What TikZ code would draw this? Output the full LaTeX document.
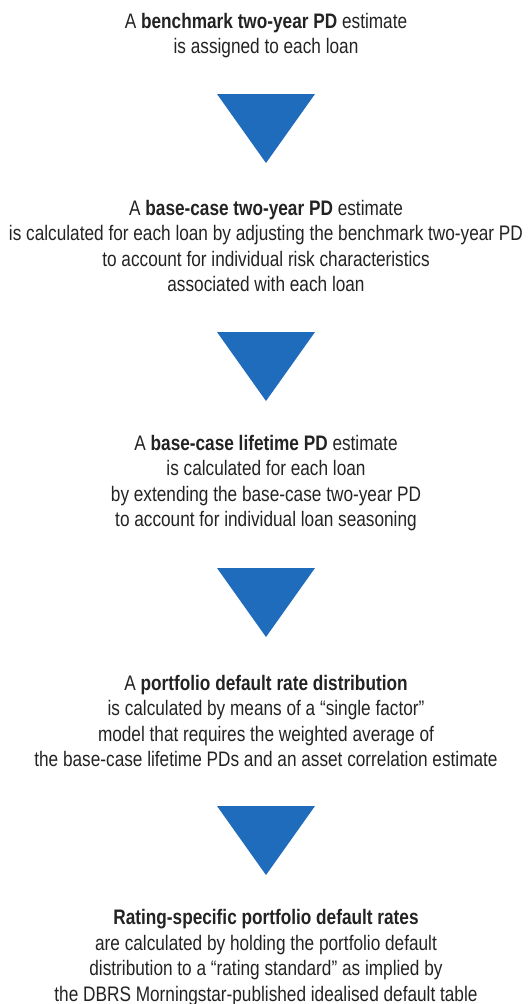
\documentclass[tikz,border=0pt]{standalone}
\usepackage{fontspec}
\setmainfont{Liberation Sans}[FakeStretch=0.82]
\definecolor{flowblue}{RGB}{31,107,188}
\definecolor{flowtext}{RGB}{35,35,35}

\begin{document}
\begin{tikzpicture}[x=1pt,y=-1pt,
    step text/.style={align=center,text=flowtext,inner sep=0pt,
      font=\fontsize{21}{25.5}\selectfont}]
    \useasboundingbox (0,0) rectangle (529,1004) ;

    % the five stages
    \node[step text] (bench) at (266,35.5) {A \textbf{benchmark two-year PD} estimate\\
      is assigned to each loan} ;
    \node[step text] (twoyear) at (266,246) {A \textbf{base-case two-year PD} estimate\\
      is calculated for each loan by adjusting the benchmark two-year PD\\
      to account for individual risk characteristics\\
      associated with each loan} ;
    \node[step text] (lifetime) at (266,483) {A \textbf{base-case lifetime PD} estimate\\
      is calculated for each loan\\
      by extending the base-case two-year PD\\
      to account for individual loan seasoning} ;
    \node[step text] (portfolio) at (266,721) {A \textbf{portfolio default rate distribution}\\
      is calculated by means of a “single factor”\\
      model that requires the weighted average of\\
      the base-case lifetime PDs and an asset correlation estimate} ;
    \node[step text] (rating) at (266,957.5) {\textbf{Rating-specific portfolio default rates}\\
      are calculated by holding the portfolio default\\
      distribution to a “rating standard” as implied by\\
      the DBRS Morningstar-published idealised default table} ;

    % blue arrow heads between the stages
    \foreach \y in {94,332,568,806}
      \fill[flowblue] (217,\y) -- (315,\y) -- (266,\y+69) -- cycle ;

  \end{tikzpicture}
\end{document}
